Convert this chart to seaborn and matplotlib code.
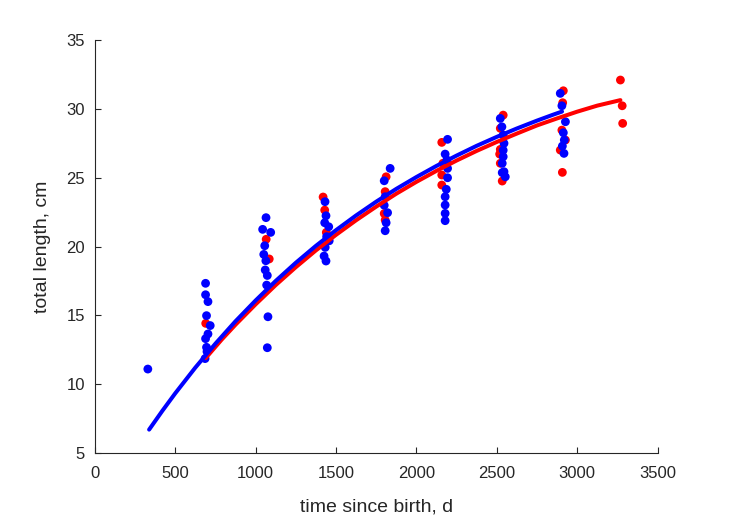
import numpy as np
import pandas as pd
import matplotlib
matplotlib.use("Agg")
import matplotlib.pyplot as plt
import seaborn as sns

# ---- data ----
red_t = [690, 1085, 1066, 1420, 1430, 1440, 1812, 1806, 1800, 1806,
         2158, 2165, 2158, 2158, 2540, 2522, 2522, 2518, 2522, 2534,
         2914, 2910, 2905, 2927, 2895, 2908, 3269, 3280, 3283]
red_L = [14.42, 19.1, 20.53, 23.6, 22.65, 21.03, 25.07, 23.99, 22.4, 21.93,
         27.57, 26.05, 25.2, 24.47, 29.55, 28.59, 27.06, 26.72, 26.05, 24.76,
         31.32, 30.45, 28.46, 27.74, 27.01, 25.39, 32.1, 30.23, 28.95]

blue_t = [330,
          689, 689, 704, 695, 718, 704, 689, 695, 698, 686,
          1065, 1044, 1094, 1057, 1051, 1064, 1060, 1073, 1069, 1077, 1073,
          1432, 1438, 1430, 1455, 1442, 1458, 1433, 1426, 1438,
          1837, 1800, 1806, 1800, 1821, 1812, 1806,
          2194, 2179, 2190, 2194, 2194, 2186, 2179, 2179, 2179, 2179,
          2522, 2532, 2540, 2545, 2540, 2540, 2534, 2545, 2553, 2534,
          2895, 2905, 2927, 2914, 2920, 2908, 2918]
blue_L = [11.1,
          17.33, 16.5, 16.0, 14.98, 14.26, 13.65, 13.31, 12.68, 12.37, 11.86,
          22.1, 21.25, 21.03, 20.06, 19.43, 18.97, 18.3, 17.9, 17.2, 14.9, 12.65,
          23.26, 22.24, 21.73, 21.44, 20.72, 20.42, 19.94, 19.31, 18.95,
          25.68, 24.78, 23.62, 23.0, 22.46, 21.73, 21.15,
          27.79, 26.72, 26.29, 25.68, 25.0, 24.16, 23.62, 23.02, 22.41, 21.88,
          29.31, 28.7, 28.1, 27.5, 27.0, 26.53, 26.05, 25.44, 25.07, 25.37,
          31.13, 30.23, 29.07, 28.27, 27.74, 27.3, 26.77]

# fitted curves
blue_fit_t = [338, 420, 500, 625, 750, 875, 1000, 1125, 1250, 1375, 1500,
              1625, 1750, 1875, 2000, 2125, 2250, 2375, 2500, 2625, 2750,
              2850, 2906]
blue_fit_L = [6.7, 8.06, 9.33, 11.20, 12.94, 14.57, 16.08, 17.50, 18.82,
              20.05, 21.19, 22.26, 23.26, 24.19, 25.05, 25.86, 26.61, 27.32,
              27.97, 28.58, 29.15, 29.58, 29.81]
red_fit_t = [690, 790, 875, 1000, 1125, 1250, 1375, 1500, 1625, 1750, 1875,
             2000, 2125, 2250, 2375, 2500, 2625, 2750, 2875, 3000, 3125, 3269]
red_fit_L = [11.9, 13.25, 14.32, 15.8, 17.2, 18.5, 19.72, 20.85, 21.91, 22.9,
             23.84, 24.7, 25.5, 26.25, 26.95, 27.6, 28.21, 28.8, 29.31, 29.8,
             30.24, 30.64]

x_ticks = [0, 500, 1000, 1500, 2000, 2500, 3000, 3500]
y_ticks = [5, 10, 15, 20, 25, 30, 35]

red_pts = pd.DataFrame({"t": red_t, "L": red_L})
blue_pts = pd.DataFrame({"t": blue_t, "L": blue_L})
red_fit = pd.DataFrame({"t": red_fit_t, "L": red_fit_L})
blue_fit = pd.DataFrame({"t": blue_fit_t, "L": blue_fit_L})

sns.set_style("white")
plt.rcParams['font.family'] = ['Liberation Sans', 'DejaVu Sans']

fig = plt.figure(figsize=(7.29, 5.21), dpi=100)
ax = fig.add_axes([0.130, 0.1305, 0.772, 0.7925])

RED = "#ff0000"
BLUE = "#0000ff"
sns.scatterplot(data=red_pts, x="t", y="L", ax=ax, color=RED, s=40,
                linewidth=0, edgecolor="none", zorder=2)
sns.scatterplot(data=blue_pts, x="t", y="L", ax=ax, color=BLUE, s=40,
                linewidth=0, edgecolor="none", zorder=3)
sns.lineplot(data=red_fit, x="t", y="L", ax=ax, color=RED, lw=2.9,
             sort=False, estimator=None, zorder=4)
sns.lineplot(data=blue_fit, x="t", y="L", ax=ax, color=BLUE, lw=2.9,
             sort=False, estimator=None, zorder=5)

ax.set_xlim(0, 3500)
ax.set_ylim(5, 35)
ax.set_xticks(x_ticks)
ax.set_yticks(y_ticks)
ax.set_xticklabels([str(v) for v in x_ticks])
ax.set_yticklabels([str(v) for v in y_ticks])

ax.spines['top'].set_visible(False)
ax.spines['right'].set_visible(False)
for s in ['left', 'bottom']:
    ax.spines[s].set_color('#262626')
    ax.spines[s].set_linewidth(0.8)
ax.tick_params(axis='x', direction='in', length=4, width=0.8, colors='#262626',
               labelsize=12, pad=9, bottom=True)
ax.tick_params(axis='y', direction='in', length=4, width=0.8, colors='#262626',
               labelsize=12, pad=7, left=True)
ax.set_xlabel("time since birth, d", fontsize=14, color='#262626', labelpad=13)
ax.set_ylabel("total length, cm", fontsize=14, color='#262626', labelpad=11)
ax.grid(False)

fig.savefig("out.png", dpi=100)
